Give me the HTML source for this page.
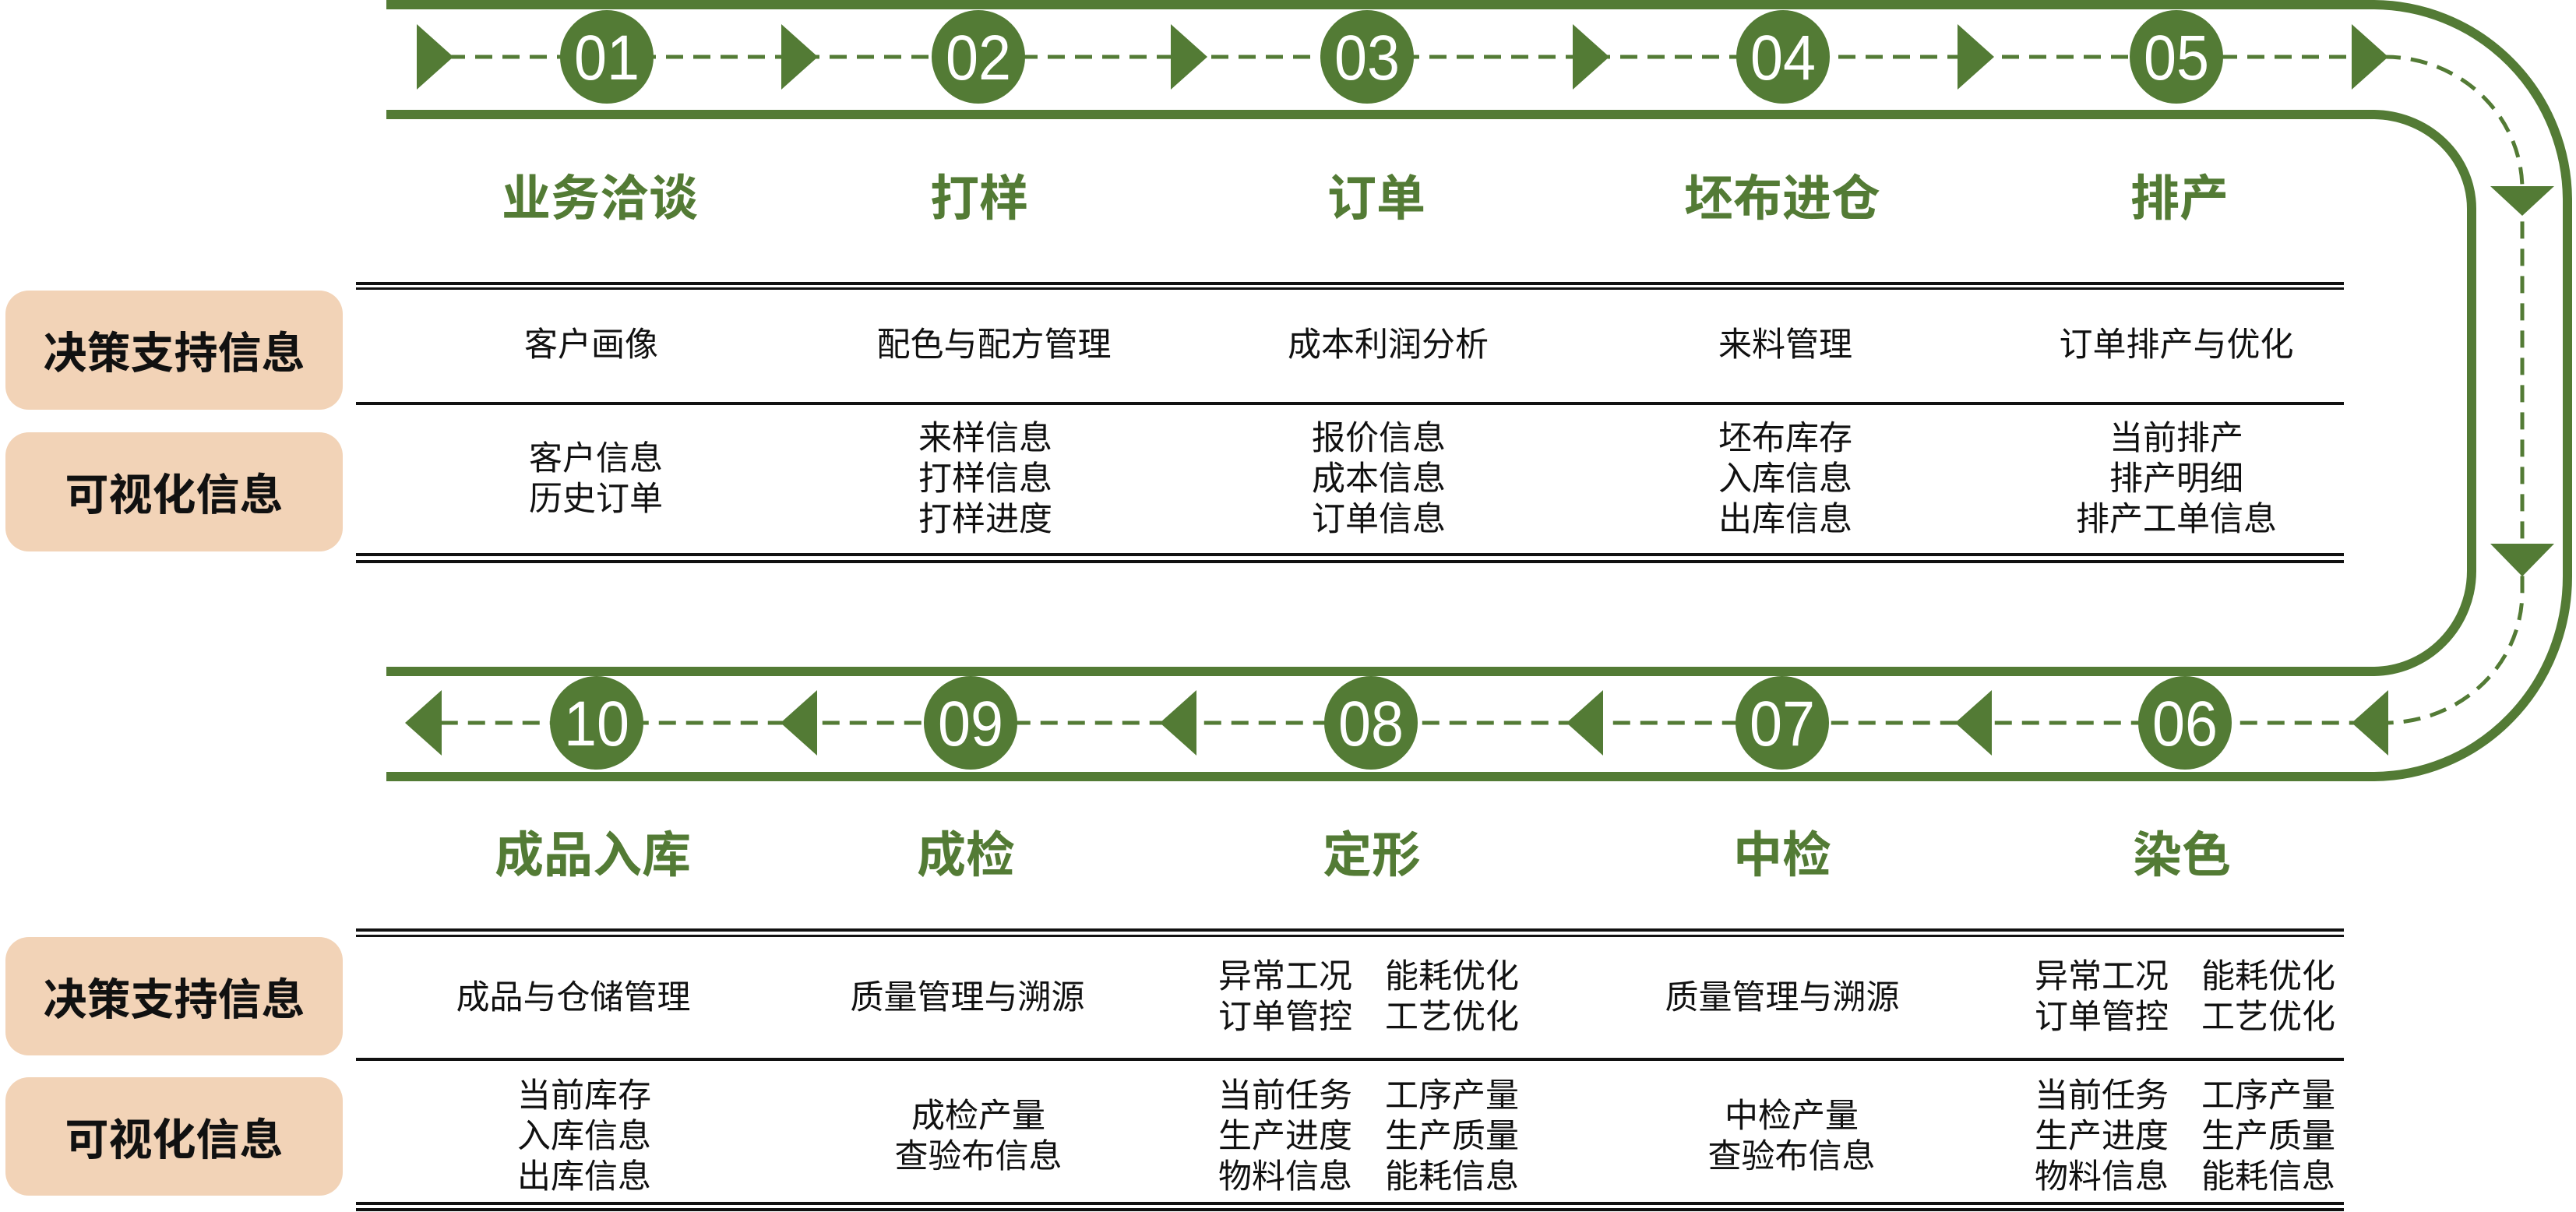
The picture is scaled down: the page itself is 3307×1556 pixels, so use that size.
<!DOCTYPE html>
<html><head><meta charset="utf-8">
<style>
body{margin:0;width:3307px;height:1556px;background:#fff;position:relative;overflow:hidden;font-family:"Liberation Sans","Noto Sans CJK SC",sans-serif;}
.t{position:absolute;transform:translate(-50%,-50%);white-space:nowrap;text-align:center;}
.g{color:#537b35;font-weight:bold;font-size:63px;}
.c{color:#111;font-size:43px;line-height:52px;}
.b{position:absolute;left:7px;width:433px;background:#f2d3b7;border-radius:30px;display:flex;align-items:center;justify-content:center;font-weight:bold;font-size:56px;color:#111;}
.two{display:flex;gap:42px;}
</style></head><body>
<svg width="3307" height="1556" style="position:absolute;left:0;top:0">
<g fill="none" stroke="#537b35" stroke-width="12">
<path d="M496 6 H3046 A250 252 0 0 1 3296 258 V740 A250 257 0 0 1 3046 997 H496"/>
<path d="M496 147 H3046 A127 121 0 0 1 3173 268 V733 A127 129 0 0 1 3046 862 H496"/>
</g>
<g fill="none" stroke="#537b35" stroke-width="5" stroke-dasharray="22 13">
<path d="M540 73 H3062 A176 170 0 0 1 3238 243 V760 A176 168 0 0 1 3062 928 H520"/>
</g>
<g fill="#537b35">
<polygon points="535,31 582,73 535,115"/>
<polygon points="1003,31 1050,73 1003,115"/>
<polygon points="1503,31 1550,73 1503,115"/>
<polygon points="2019,31 2066,73 2019,115"/>
<polygon points="2513,31 2560,73 2513,115"/>
<polygon points="3019,31 3066,73 3019,115"/>
<polygon points="3197,239 3279,239 3238,277"/>
<polygon points="3197,698 3279,698 3238,740"/>
<polygon points="520,928 567,886 567,970"/>
<polygon points="1002,928 1049,886 1049,970"/>
<polygon points="1489,928 1536,886 1536,970"/>
<polygon points="2011,928 2058,886 2058,970"/>
<polygon points="2510,928 2557,886 2557,970"/>
<polygon points="3019,928 3066,886 3066,970"/>
<circle cx="779" cy="73" r="60"/><circle cx="1256" cy="73" r="60"/><circle cx="1755" cy="73" r="60"/><circle cx="2289" cy="73" r="60"/><circle cx="2794" cy="73" r="60"/>
<circle cx="766" cy="928" r="60"/><circle cx="1246" cy="928" r="60"/><circle cx="1760" cy="928" r="60"/><circle cx="2288" cy="928" r="60"/><circle cx="2805" cy="928" r="60"/>
</g>
<g fill="#fff" font-family="Liberation Sans, sans-serif" font-size="82">
<text x="737" y="102" textLength="84" lengthAdjust="spacingAndGlyphs">01</text>
<text x="1214" y="102" textLength="84" lengthAdjust="spacingAndGlyphs">02</text>
<text x="1713" y="102" textLength="84" lengthAdjust="spacingAndGlyphs">03</text>
<text x="2247" y="102" textLength="84" lengthAdjust="spacingAndGlyphs">04</text>
<text x="2752" y="102" textLength="84" lengthAdjust="spacingAndGlyphs">05</text>
<text x="724" y="957" textLength="84" lengthAdjust="spacingAndGlyphs">10</text>
<text x="1204" y="957" textLength="84" lengthAdjust="spacingAndGlyphs">09</text>
<text x="1718" y="957" textLength="84" lengthAdjust="spacingAndGlyphs">08</text>
<text x="2246" y="957" textLength="84" lengthAdjust="spacingAndGlyphs">07</text>
<text x="2763" y="957" textLength="84" lengthAdjust="spacingAndGlyphs">06</text>
</g>
<g fill="#111">
<rect x="457" y="362" width="2552" height="4"/><rect x="457" y="369" width="2552" height="3"/>
<rect x="457" y="516" width="2552" height="4"/>
<rect x="457" y="710" width="2552" height="4"/><rect x="457" y="719" width="2552" height="4"/>
<rect x="457" y="1192" width="2552" height="4"/><rect x="457" y="1200" width="2552" height="3"/>
<rect x="457" y="1358" width="2552" height="4"/>
<rect x="457" y="1543" width="2552" height="4"/><rect x="457" y="1551" width="2552" height="4"/>
</g>
</svg>

<div class="b" style="top:373px;height:153px">决策支持信息</div>
<div class="b" style="top:555px;height:153px">可视化信息</div>
<div class="b" style="top:1203px;height:152px">决策支持信息</div>
<div class="b" style="top:1383px;height:152px">可视化信息</div>

<div class="t g" style="left:770px;top:250px">业务洽谈</div>
<div class="t g" style="left:1257px;top:250px">打样</div>
<div class="t g" style="left:1767px;top:250px">订单</div>
<div class="t g" style="left:2288px;top:250px">坯布进仓</div>
<div class="t g" style="left:2798px;top:250px">排产</div>
<div class="t g" style="left:761px;top:1093px">成品入库</div>
<div class="t g" style="left:1240px;top:1093px">成检</div>
<div class="t g" style="left:1761px;top:1093px">定形</div>
<div class="t g" style="left:2288px;top:1093px">中检</div>
<div class="t g" style="left:2801px;top:1093px">染色</div>

<div class="t c" style="left:759px;top:443px">客户画像</div>
<div class="t c" style="left:1276px;top:443px">配色与配方管理</div>
<div class="t c" style="left:1782px;top:443px">成本利润分析</div>
<div class="t c" style="left:2292px;top:443px">来料管理</div>
<div class="t c" style="left:2794px;top:443px">订单排产与优化</div>

<div class="t c" style="left:765px;top:615px">客户信息<br>历史订单</div>
<div class="t c" style="left:1265px;top:615px">来样信息<br>打样信息<br>打样进度</div>
<div class="t c" style="left:1770px;top:615px">报价信息<br>成本信息<br>订单信息</div>
<div class="t c" style="left:2292px;top:615px">坯布库存<br>入库信息<br>出库信息</div>
<div class="t c" style="left:2794px;top:615px">当前排产<br>排产明细<br>排产工单信息</div>

<div class="t c" style="left:736px;top:1281px">成品与仓储管理</div>
<div class="t c" style="left:1242px;top:1281px">质量管理与溯源</div>
<div class="t c two" style="left:1757px;top:1280px"><div>异常工况<br>订单管控</div><div>能耗优化<br>工艺优化</div></div>
<div class="t c" style="left:2288px;top:1281px">质量管理与溯源</div>
<div class="t c two" style="left:2805px;top:1280px"><div>异常工况<br>订单管控</div><div>能耗优化<br>工艺优化</div></div>

<div class="t c" style="left:750px;top:1459px">当前库存<br>入库信息<br>出库信息</div>
<div class="t c" style="left:1256px;top:1459px">成检产量<br>查验布信息</div>
<div class="t c two" style="left:1757px;top:1459px"><div>当前任务<br>生产进度<br>物料信息</div><div>工序产量<br>生产质量<br>能耗信息</div></div>
<div class="t c" style="left:2300px;top:1459px">中检产量<br>查验布信息</div>
<div class="t c two" style="left:2805px;top:1459px"><div>当前任务<br>生产进度<br>物料信息</div><div>工序产量<br>生产质量<br>能耗信息</div></div>
</body></html>
